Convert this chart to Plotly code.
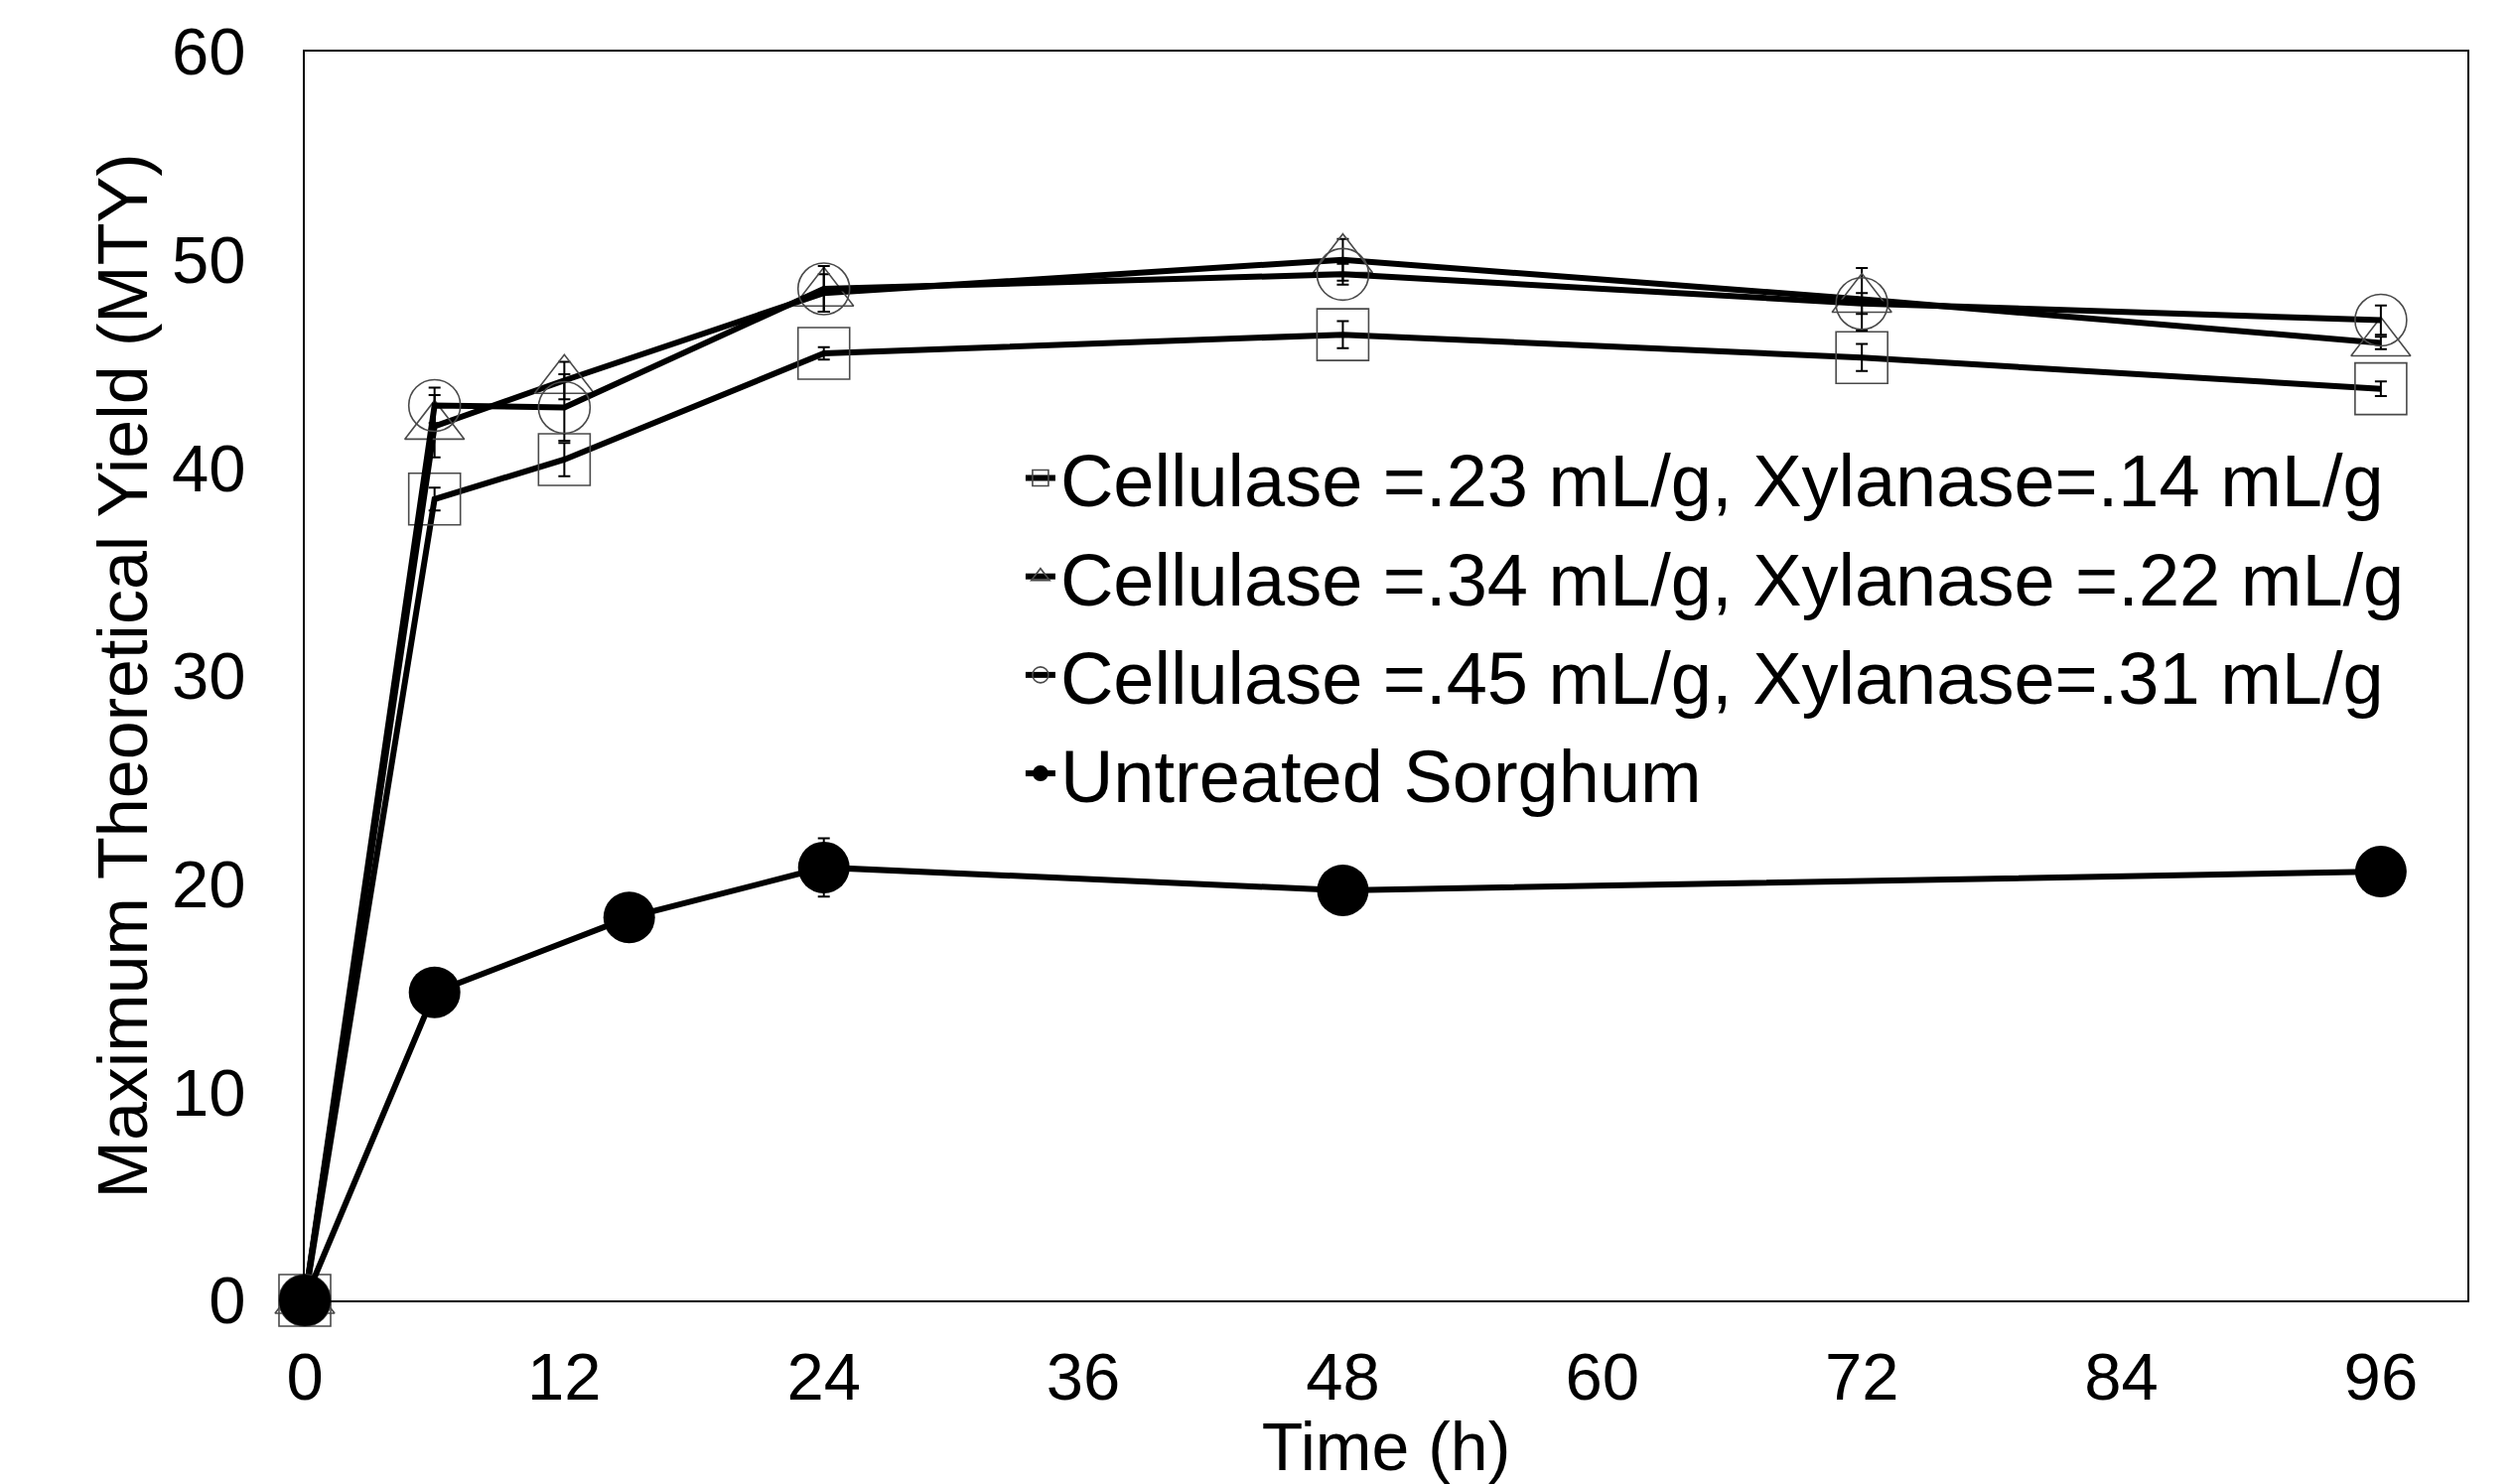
import plotly.graph_objects as go

# Sampling times (h)
time_h = [0, 6, 12, 24, 48, 72, 96]
time_untreated = [0, 6, 15, 24, 48, 96]

# Maximum theoretical yield (%) for each enzyme loading
cel23_xyl14 = [0, 38.5, 40.4, 45.5, 46.4, 45.3, 43.8]
cel23_xyl14_err = [0, 0.55, 0.8, 0.3, 0.65, 0.65, 0.35]

cel34_xyl22 = [0, 42.0, 44.2, 48.4, 50.0, 48.1, 46.0]
cel34_xyl22_err = [0, 1.5, 0.9, 0.9, 1.0, 1.5, 0.3]

cel45_xyl31 = [0, 43.0, 42.9, 48.6, 49.3, 47.9, 47.1]
cel45_xyl31_err = [0, 0.85, 1.6, 1.1, 0.5, 0.5, 0.7]

untreated = [0, 14.8, 18.4, 20.8, 19.7, 20.6]
untreated_err = [0, 0.3, 0.3, 1.4, 0.3, 0.3]

series_names = [
    "Cellulase =.23 mL/g, Xylanase=.14 mL/g",
    "Cellulase =.34 mL/g, Xylanase =.22 mL/g",
    "Cellulase =.45 mL/g, Xylanase=.31 mL/g",
    "Untreated Sorghum",
]

x_ticks = [0, 12, 24, 36, 48, 60, 72, 84, 96]
y_ticks = [0, 10, 20, 30, 40, 50, 60]

FONT = "Liberation Sans, Arial, sans-serif"
MARKER_SIZE = 52


def err_bars(values):
    return dict(type="data", array=values, visible=True, color="black",
                thickness=2, width=6)


fig = go.Figure()

open_series = [
    (cel23_xyl14, cel23_xyl14_err, "square-open", series_names[0]),
    (cel34_xyl22, cel34_xyl22_err, "triangle-up-open", series_names[1]),
    (cel45_xyl31, cel45_xyl31_err, "circle-open", series_names[2]),
]
for values, errs, symbol, name in open_series:
    fig.add_trace(go.Scatter(
        x=time_h, y=values, name=name, mode="lines+markers",
        cliponaxis=False,
        line=dict(color="black", width=6),
        marker=dict(symbol=symbol, size=MARKER_SIZE, color="#4a4a4a",
                    line=dict(width=1.6, color="#4a4a4a")),
        error_y=err_bars(errs),
    ))

fig.add_trace(go.Scatter(
    x=time_untreated, y=untreated, name=series_names[3], mode="lines+markers",
    cliponaxis=False,
    line=dict(color="black", width=6),
    marker=dict(symbol="circle", size=MARKER_SIZE, color="black"),
    error_y=err_bars(untreated_err),
))

fig.update_layout(
    width=2535, height=1495,
    margin=dict(l=307, r=50, t=52, b=185),
    paper_bgcolor="white", plot_bgcolor="white",
    font=dict(family=FONT, color="black", size=67),
    showlegend=True,
    legend=dict(
        x=0.331, y=0.702, xanchor="left", yanchor="top",
        bgcolor="rgba(0,0,0,0)", borderwidth=0,
        font=dict(size=74, family=FONT, color="black"),
        itemsizing="trace",
    ),
)

fig.update_xaxes(
    range=[0, 100], tickvals=x_ticks, ticktext=[str(v) for v in x_ticks],
    showgrid=False, zeroline=False, ticks="",
    showline=True, linecolor="black", linewidth=2, mirror=True,
    tickfont=dict(size=67, family=FONT), ticklabelstandoff=18,
    title=dict(text="Time (h)", font=dict(size=68, family=FONT), standoff=0),
)
fig.update_yaxes(
    range=[0, 60], tickvals=y_ticks, ticktext=[str(v) for v in y_ticks],
    showgrid=False, zeroline=False, ticks="",
    showline=True, linecolor="black", linewidth=2, mirror=True,
    tickfont=dict(size=67, family=FONT), ticklabelstandoff=44,
    title=dict(text="Maximum Theoretical Yield (MTY)",
               font=dict(size=70, family=FONT), standoff=2),
)

fig.write_html("out.html")
